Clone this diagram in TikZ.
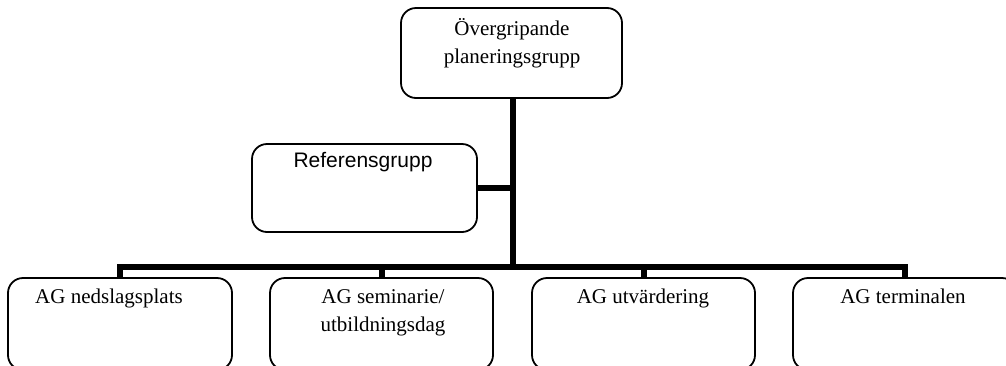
\documentclass[tikz,border=0pt]{standalone}
\usepackage{fontspec}
\setmainfont{Liberation Serif}
\newfontfamily\arialfont{Liberation Sans}
\begin{document}
\begin{tikzpicture}[x=1pt,y=-1pt,
  orgbox/.style={draw=black,line width=1.8pt,rounded corners=15pt,fill=white,inner sep=0pt},
  lbl/.style={inner sep=0pt,align=center,font=\fontsize{21}{28}\selectfont},
  conn/.style={line width=6pt,draw=black,line join=miter}]
\useasboundingbox (0,0) rectangle (1006,365);
\clip (0,0) rectangle (1006,365);
% boxes
\node[orgbox,minimum width=221pt,minimum height=90pt] (top) at (511.5,53) {};
\node[orgbox,minimum width=225pt,minimum height=88pt] (ref) at (364.5,188) {};
\node[orgbox,minimum width=224pt,minimum height=92pt] (b1) at (120,324) {};
\node[orgbox,minimum width=223pt,minimum height=92pt] (b2) at (381.5,324) {};
\node[orgbox,minimum width=223pt,minimum height=92pt] (b3) at (643.5,324) {};
\node[orgbox,minimum width=224pt,minimum height=92pt] (b4) at (905,324) {};
% texts (base anchor = baseline of the last line)
\node[lbl,anchor=base] (ttop) at (512,63) {Övergripande\\planeringsgrupp};
\node[lbl,anchor=base,font=\arialfont\fontsize{21}{28}\selectfont] (tref) at (363,167) {Referensgrupp};
\node[lbl,anchor=base] (t1) at (109,303) {AG nedslagsplats};
\node[lbl,anchor=base] (t2) at (383,331) {AG seminarie/\\utbildningsdag};
\node[lbl,anchor=base] (t3) at (643,303) {AG utvärdering};
\node[lbl,anchor=base] (t4) at (903,303) {AG terminalen};
% connectors
\coordinate (bus) at (513,267);
\draw[conn] (top.south -| bus) -- (bus);
\draw[conn] (b1.north) -- (b1.north |- bus) -- (b4.north |- bus) -- (b4.north);
\draw[conn] (b2.north) -- (b2.north |- bus);
\draw[conn] (b3.north) -- (b3.north |- bus);
\draw[conn] (ref.east) -- (ref.east -| bus);
\end{tikzpicture}
\end{document}
